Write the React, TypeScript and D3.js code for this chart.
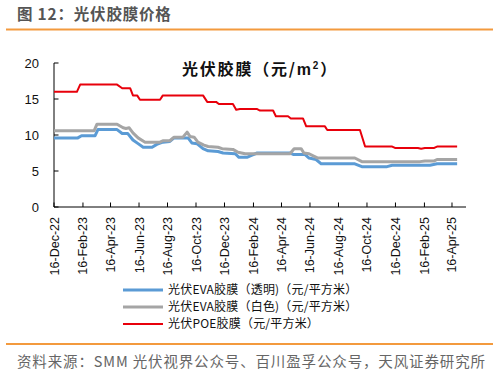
import React from "react";
import * as d3 from "d3";

const blueDates = ["2022-12-16","2023-02-05","2023-02-13","2023-03-14","2023-03-20","2023-04-30","2023-05-11","2023-05-23","2023-06-03","2023-06-14","2023-06-25","2023-07-14","2023-07-24","2023-08-06","2023-08-21","2023-08-30","2023-09-29","2023-10-07","2023-10-18","2023-10-31","2023-11-11","2023-12-02","2023-12-13","2024-01-08","2024-01-16","2024-02-02","2024-02-13","2024-02-24","2024-05-04","2024-05-11","2024-06-05","2024-06-14","2024-06-29","2024-07-10","2024-09-20","2024-10-05","2024-11-28","2024-12-09","2025-02-28","2025-03-15","2025-04-27"];
const blueValues = [9.6,9.6,9.9,9.9,10.75,10.75,10.2,10.2,9.3,8.8,8.3,8.3,8.7,9.0,9.1,9.6,9.6,8.9,8.8,8.1,7.8,7.7,7.5,7.4,6.9,6.9,7.2,7.5,7.5,7.3,7.3,6.8,6.6,6.0,6.0,5.6,5.6,5.8,5.8,6.0,6.0];

const grayDates = ["2022-12-16","2023-03-12","2023-03-18","2023-04-30","2023-05-13","2023-05-19","2023-05-26","2023-06-03","2023-06-14","2023-06-29","2023-07-31","2023-08-06","2023-08-21","2023-08-30","2023-09-18","2023-09-27","2023-10-03","2023-10-12","2023-10-20","2023-11-02","2023-11-11","2023-12-02","2023-12-11","2024-01-03","2024-01-14","2024-01-29","2024-05-04","2024-05-13","2024-05-28","2024-06-03","2024-06-14","2024-06-23","2024-07-03","2024-09-20","2024-10-05","2025-02-07","2025-02-17","2025-03-09","2025-03-15","2025-04-27"];
const grayValues = [10.6,10.6,11.5,11.5,11.0,10.9,11.0,10.3,9.6,9.0,9.0,9.2,9.2,9.7,9.7,10.4,9.8,9.7,9.0,8.6,8.4,8.3,8.1,8.0,7.6,7.4,7.4,8.1,8.1,7.5,7.4,7.1,6.8,6.8,6.3,6.3,6.4,6.4,6.6,6.6];

const redDates = ["2022-12-16","2023-02-03","2023-02-10","2023-04-30","2023-05-11","2023-05-28","2023-06-03","2023-06-12","2023-06-18","2023-07-31","2023-08-06","2023-10-31","2023-11-09","2023-11-28","2023-12-04","2024-01-03","2024-01-10","2024-01-18","2024-02-24","2024-03-01","2024-03-29","2024-04-04","2024-04-30","2024-05-06","2024-06-01","2024-06-08","2024-07-18","2024-07-23","2024-10-01","2024-10-12","2024-12-09","2024-12-15","2025-02-02","2025-02-09","2025-02-17","2025-03-09","2025-03-15","2025-04-27"];
const redValues = [16.0,16.0,17.0,17.0,16.5,16.5,15.5,15.5,14.9,14.9,15.5,15.5,14.6,14.6,14.3,14.3,13.5,13.6,13.6,13.4,13.4,12.6,12.6,12.3,12.3,11.2,11.2,10.7,10.7,8.4,8.4,8.2,8.2,8.1,8.2,8.2,8.4,8.4];

const xTickDates = ["2022-12-16","2023-02-16","2023-04-16","2023-06-16","2023-08-16","2023-10-16","2023-12-16","2024-02-16","2024-04-16","2024-06-16","2024-08-16","2024-10-16","2024-12-16","2025-02-16","2025-04-16"];
const yTicks = [0, 5, 10, 15, 20];

const seriesNames = ["光伏EVA胶膜（透明)（元/平方米）", "光伏EVA胶膜（白色)（元/平方米）", "光伏POE胶膜（元/平方米）"];
const seriesColors = ["#5B9BD5", "#A5A5A5", "#E8000B"];
const seriesWidths = [3, 3, 2];

const CJK = "'Noto Sans CJK SC', 'Noto Sans', sans-serif";
const LAT = "'Liberation Sans', Arial, sans-serif";

export default function App() {
  const parse = d3.timeParse("%Y-%m-%d");
  const fmt = d3.timeFormat("%d-%b-%y");
  const x = d3.scaleTime().domain([parse("2022-12-16") as Date, parse("2025-05-16") as Date]).range([54, 466]);
  const y = d3.scaleLinear().domain([0, 20]).range([207, 63]);
  const line = d3.line<[Date, number]>().x(d => x(d[0])).y(d => y(d[1]));

  const series = [
    blueDates.map((d, i) => [parse(d) as Date, blueValues[i]] as [Date, number]),
    grayDates.map((d, i) => [parse(d) as Date, grayValues[i]] as [Date, number]),
    redDates.map((d, i) => [parse(d) as Date, redValues[i]] as [Date, number]),
  ];

  const x0 = x.range()[0];
  const x1 = x.range()[1];
  const yb = y(0);
  const yt = y(20);

  return (
    <svg width={499} height={372} style={{ position: "absolute", left: 0, top: 0, background: "#fff" }}>
      <rect x={0} y={0} width={499} height={372} fill="#fff" />
      <text x={17} y={20} fontFamily={CJK} fontSize={15.5} fontWeight={700} fill="#555" letterSpacing={0.8}>图 12：光伏胶膜价格</text>
      <line x1={6} x2={493} y1={29.5} y2={29.5} stroke="#F39A3E" strokeWidth={2} />

      <text x={182} y={75} fontFamily={CJK} fontSize={16} fontWeight={700} fill="#111" letterSpacing={1.8}>
        光伏胶膜（元/<tspan fontFamily={LAT}>m</tspan><tspan fontFamily={LAT} fontSize={10} dy={-6}>2</tspan><tspan dy={6}>）</tspan>
      </text>

      {/* axes */}
      <line x1={x0} x2={x0} y1={yt} y2={yb} stroke="#000" strokeWidth={1} />
      <line x1={x0} x2={x1} y1={yb} y2={yb} stroke="#000" strokeWidth={1} />
      {yTicks.map(t => (
        <g key={t}>
          <line x1={x0} x2={x0 + 4.5} y1={y(t)} y2={y(t)} stroke="#000" />
          <text x={39} y={y(t)} dy="0.36em" textAnchor="end" fontFamily={LAT} fontSize={13} fill="#111">{t}</text>
        </g>
      ))}
      {xTickDates.map(d => {
        const xv = x(parse(d) as Date);
        return (
          <g key={d}>
            <line x1={xv} x2={xv} y1={yb} y2={yb - 4.5} stroke="#000" />
            <text transform={`translate(${xv},${yb + 10}) rotate(-90)`} dy="0.36em" textAnchor="end" fontFamily={LAT} fontSize={12.5} fill="#111">{fmt(parse(d) as Date)}</text>
          </g>
        );
      })}

      {series.map((s, i) => (
        <path key={i} d={line(s) || ""} fill="none" stroke={seriesColors[i]} strokeWidth={seriesWidths[i]} strokeLinejoin="round" />
      ))}

      {seriesNames.map((n, i) => (
        <g key={n} transform={`translate(0,${290 + i * 17})`}>
          <line x1={123} x2={163} y1={0} y2={0} stroke={seriesColors[i]} strokeWidth={seriesWidths[i]} />
          <text x={168} y={0} dy="0.36em" fontFamily={CJK} fontSize={12} fill="#111" letterSpacing={0.2}>{n}</text>
        </g>
      ))}

      <line x1={6} x2={493} y1={344} y2={344} stroke="#F39A3E" strokeWidth={2} />
      <text x={17} y={367} fontFamily={CJK} fontSize={14.5} fill="#666" textLength={468} lengthAdjust="spacing">资料来源：SMM 光伏视界公众号、百川盈孚公众号，天风证券研究所</text>
    </svg>
  );
}
